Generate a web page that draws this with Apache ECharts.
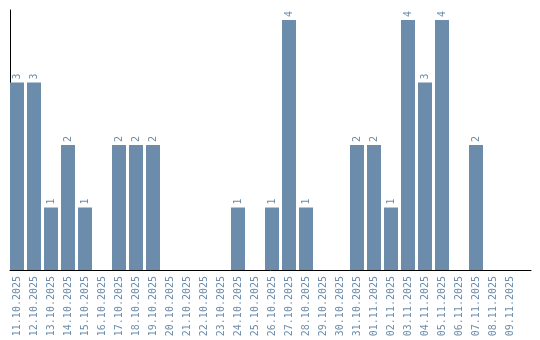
<!DOCTYPE html>
<html><head><meta charset="utf-8">
<script src="https://cdn.jsdelivr.net/npm/echarts@6/dist/echarts.min.js"></script>
<style>html,body{margin:0;padding:0;background:#fff}#c{width:540px;height:340px}</style>
</head><body><div id="c"></div>
<script>
const categories = ["11.10.2025","12.10.2025","13.10.2025","14.10.2025","15.10.2025","16.10.2025","17.10.2025","18.10.2025","19.10.2025","20.10.2025","21.10.2025","22.10.2025","23.10.2025","24.10.2025","25.10.2025","26.10.2025","27.10.2025","28.10.2025","29.10.2025","30.10.2025","31.10.2025","01.11.2025","02.11.2025","03.11.2025","04.11.2025","05.11.2025","06.11.2025","07.11.2025","08.11.2025","09.11.2025"];
const values = [3,3,1,2,1,0,2,2,2,0,0,0,0,1,0,1,4,1,0,0,2,2,1,4,3,4,0,2,0,0];
const barColor = '#6b8cab';
const font = 'DejaVu Sans Mono';
const chart = echarts.init(document.getElementById('c'));
chart.setOption({
  animation: false,
  grid: [
    {left: 8.5, width: 510, top: 10, bottom: 70},
    {left: 10, right: 9, top: 10, bottom: 70}
  ],
  xAxis: [
    {type: 'category', data: categories, gridIndex: 0,
     axisLine: {show: false}, axisTick: {show: false},
     axisLabel: {rotate: 90, interval: 0, margin: 6, color: barColor, fontFamily: font, fontSize: 10}},
    {type: 'value', gridIndex: 1, min: 0, max: 1,
     axisLine: {show: true, lineStyle: {color: '#000', width: 1}}, axisTick: {show: false},
     axisLabel: {show: false}, splitLine: {show: false}}
  ],
  yAxis: [
    {type: 'value', gridIndex: 0, min: 0, max: 4.16, show: false, splitLine: {show: false}},
    {type: 'value', gridIndex: 1, min: 0, max: 1,
     axisLine: {show: true, lineStyle: {color: '#000', width: 1}}, axisTick: {show: false},
     axisLabel: {show: false}, splitLine: {show: false}}
  ],
  series: [{
    type: 'bar', xAxisIndex: 0, yAxisIndex: 0, data: values.map(v => v === 0 ? null : v),
    barWidth: 14,
    itemStyle: {color: barColor},
    label: {show: true, position: 'top', rotate: 90, align: 'left', verticalAlign: 'middle',
            distance: 3, color: barColor, fontFamily: font, fontSize: 10}
  }]
});
</script></body></html>
